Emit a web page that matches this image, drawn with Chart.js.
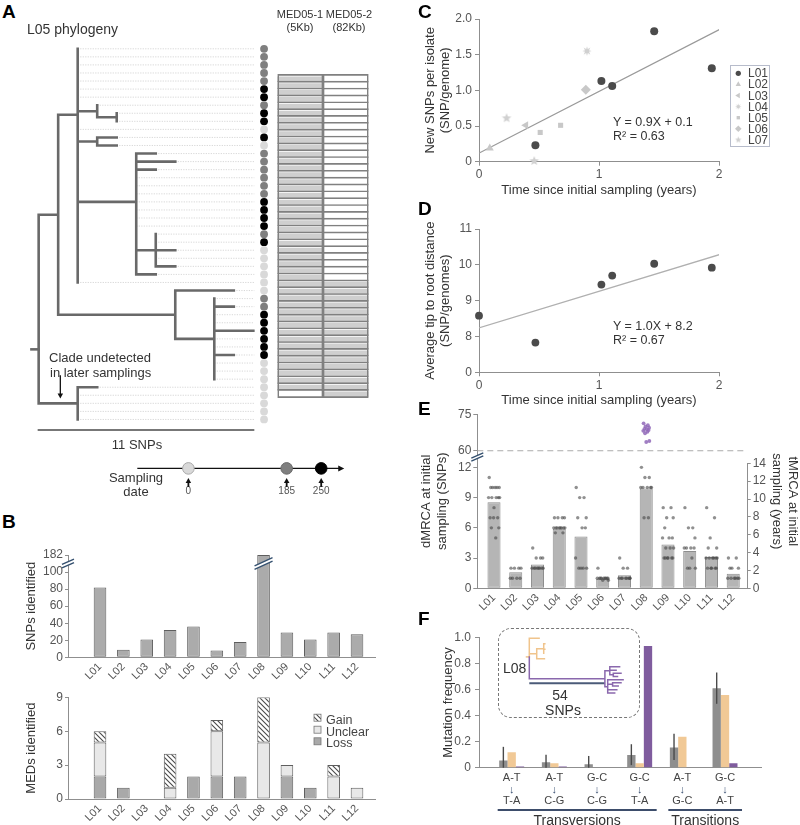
<!DOCTYPE html>
<html><head><meta charset="utf-8">
<script src="https://cdn.jsdelivr.net/npm/chart.js@4.4.1/dist/chart.umd.min.js"></script>
<style>
html,body{margin:0;padding:0;background:#fff;}
#fig{position:relative;width:800px;height:825px;overflow:hidden;background:#fff;font-family:'Liberation Sans',Arial,Helvetica,sans-serif;color:#333;}
#fig canvas{position:absolute;}
.t{position:absolute;white-space:nowrap;line-height:1;color:#333;}
.box{position:absolute;}
</style></head><body><div id="fig"></div>
<script>
/* ================= DATA ================= */
const lineages = ['L01','L02','L03','L04','L05','L06','L07','L08','L09','L10','L11','L12'];

/* Panel A : L05 phylogeny */
const samplingDays = [0, 185, 250];
const leafSamplingDay = [185,185,185,185,185,250,250,185,250,250,0,250,0,185,185,185,185,185,185,250,250,250,250,185,250,0,0,0,0,0,0,185,185,250,250,250,250,250,250,0,0,0,0,0,0,0,0];
const med05_1Coverage = [1,1,1,1,1,1,1,1,1,1,1,1,1,1,1,1,1,1,1,1,1,1,1,1,1,1,1,1,1,1,1,1,1,1,1,1,1,1,1,1,1,1,1,1,1,1,0];
const med05_2Coverage = [0,0,0,0,0,0,0,0,0,0,0,0,0,0,0,0,0,0,0,0,0,0,0,0,0,0,0,0,0,0,1,1,1,1,1,1,1,1,1,1,1,1,1,1,1,1,1];
function L(len, leaf, tag){ return {len, leaf, tag}; }
function N(len, children, tag){ return {len, children, tag}; }
// branch lengths in SNPs, leaves numbered top to bottom
const l05Tree = N(0, [
  N(1, [
    N(1, [L(0,0),L(0,1),L(0,2),L(0,3),L(0,4),L(0,5),L(0,6),
          N(1,[L(0,7), N(1,[L(0,8),L(0,9)])]),
          L(0,10),
          N(1,[L(1,11),L(1,12)]),
          N(3,[L(1,13),L(2,14),L(1,15),L(0,16),L(0,17),L(0,18),L(0,19),L(0,20),L(0,21),L(0,22),
               N(1,[L(0,23),L(0,24),L(1,25),L(0,26),L(1,27)]), L(1,28)]),
          L(0,29)]),
    N(6, [L(3,30), N(2,[L(0,31),L(1,32),L(0,33),L(0,34),L(2,35),L(0,36),L(0,37),L(1,38),L(0,39),L(0,40),L(0,41)])])
  ]),
  N(2, [L(1,42),L(0,43),L(0,44),L(0,45),L(0,46)])
]);
const treeScaleSnps = 11;

/* Panel B */
const snpsIdentified = [82, 9, 21, 32, 36, 8, 18, 182, 29, 21, 29, 27];
const snpTickValues = [0, 20, 40, 60, 80, 100, 182];
const medLoss    = [2,1,0,0,2,2,2,0,2,1,0,0];
const medUnclear = [3,0,0,1,0,4,0,5,1,0,2,1];
const medGain    = [1,0,0,3,0,1,0,4,0,0,1,0];
const medTicks = [0, 3, 6, 9];

/* Panel C */
const cSeries = ['L01','L02','L03','L04','L05','L06','L07'];
const cYears  = [[0.47,1.02,1.11,1.46,1.94],[0.09],[0.39],[0.90],[0.51,0.68],[0.89],[0.23,0.46]];
const cNewSnps = [[0.23,1.13,1.06,1.83,1.31],[0.19],[0.51],[1.55],[0.41,0.51],[1.01],[0.61,0.01]];
const cFitX = [0, 2];
const cFitY = [0.12, 1.85];
const cTicksY = [0, 0.5, 1.0, 1.5, 2.0];

/* Panel D */
const dYears = [0, 0.47, 1.02, 1.11, 1.46, 1.94];
const dTipToRoot = [8.58, 7.83, 9.45, 9.70, 10.03, 9.92];
const dFitX = [0, 2];
const dFitY = [8.24, 10.28];
const dTicksY = [8, 9, 10, 11];

/* Panel E */
const eDmrca = [8.55, 1.6, 2.35, 5.9, 5.15, 0.95, 1.3, 9.9, 4.35, 3.7, 3.1, 1.45];
const eIsolates = [
  [11,10,10,10,10,10,9,9,9,9,9,8,7,7,7,6,6,5],
  [2,2,2,2,1,1,1,1],
  [4,3,3,3,2,2,2,2,2,2,2,2],
  [7,7,7,7,6,6,6,6,6,6,6,6,5.5,5.5],
  [10,9,9,7,7,6,6,3,2,2,2,2],
  [2,1,1,1,1,1,1,1,1,1,0.8,0.8],
  [3,2,2,1,1,1,1,1,1,1,1],
  [12,11,11,10,10,10,10,10,7,7],
  [8,8,7,7,6,5,5,5,4,4,4,3,3,3,3,3,3],
  [8,6,6,5,4,4,4,4,3,2,2,2],
  [8,7,5,4,4,3,3,3,3,3,3,2,2,2,2,2],
  [3,3,2,2,2,1,1,1,1,1,1]
];
const eL08Distant = [71.3, 70.5, 70, 69.5, 69, 68.8, 68.5, 68.2, 67.8, 67.2, 64, 63.6];
const eLeftTicks = [0, 3, 6, 9, 12, 60, 75];
const eRightTicks = [0, 2, 4, 6, 8, 10, 12, 14];

/* Panel F */
const fClasses = [['A-T','T-A'],['A-T','C-G'],['G-C','C-G'],['G-C','T-A'],['A-T','G-C'],['G-C','A-T']];
const fAllLineages = [0.055, 0.042, 0.027, 0.098, 0.155, 0.61];
const fAllLo = [0, 0, 0, 0.02, 0.06, 0.49];
const fAllHi = [0.16, 0.10, 0.09, 0.18, 0.26, 0.73];
const fL08Early = [0.118, 0.035, 0, 0.035, 0.238, 0.557];
const fL08Distant = [0.01, 0.01, 0, 0.933, 0.004, 0.035];
const fGroups = [{name:'Transversions', from:0, to:3}, {name:'Transitions', from:4, to:5}];
const fTicksY = [0, 0.2, 0.4, 0.6, 0.8, 1.0];
// inset: L08 tree (branch lengths in SNPs, leaf rows)
const l08Tree = N(0, [
  L(7, 0),
  N(5.3, [ N(5, [L(0.8,1.6), L(0.8,3.2), L(0,4.4)]), L(5.5,6) ]),
  N(54, [
    N(3.5, [L(7,8.4), L(4.5,9.4), N(2.5,[L(5.5,10.3), L(3,11.2)])]),
    N(2, [L(11,12.2), N(3.5,[L(6,13.1), L(4,14)]), L(6.5,15.1), L(5,16.1)])
  ], 'late')
], 'early');
const l08ScaleSnps = 54;

/* ================= STYLE / HELPERS ================= */
Chart.defaults.font.family = "'Liberation Sans', Arial, Helvetica, sans-serif";
Chart.defaults.font.size = 12;
Chart.defaults.color = '#555';
Chart.defaults.animation = false;
Chart.defaults.responsive = false;
Chart.defaults.maintainAspectRatio = false;
Chart.defaults.devicePixelRatio = 1;
Chart.defaults.events = [];
Chart.defaults.plugins.legend.display = false;
Chart.defaults.plugins.tooltip.enabled = false;

const fig = document.getElementById('fig');
const AXC = '#8f8f8f';
const samplingColors = ['#d9d9d9', '#7f7f7f', '#000000'];
const samplingBorders = ['#a9a9a9', '#6a6a6a', '#000000'];
const tagColors = {early: '#f0c48c', late: '#8a68ad', base: '#696969'};

function mkCanvas(l, t, w, h) {
  const c = document.createElement('canvas');
  c.width = w; c.height = h;
  c.style.left = l + 'px'; c.style.top = t + 'px';
  c.style.width = w + 'px'; c.style.height = h + 'px';
  fig.appendChild(c);
  return c;
}
function txt(html, x, y, o) {
  o = o || {};
  const d = document.createElement('div');
  d.className = 't';
  d.innerHTML = html;
  d.style.fontSize = (o.size || 13) + 'px';
  if (o.bold) d.style.fontWeight = 'bold';
  if (o.color) d.style.color = o.color;
  const ax = o.align === 'left' ? '0' : (o.align === 'right' ? '-100%' : '-50%');
  d.style.left = x + 'px'; d.style.top = y + 'px';
  d.style.transform = 'translate(' + ax + ',-50%)';
  fig.appendChild(d);
  return d;
}
const drawPt = (Chart.helpers && Chart.helpers.drawPoint) ? Chart.helpers.drawPoint :
  function (ctx, o, x, y) { ctx.beginPath(); ctx.arc(x, y, o.radius, 0, Math.PI * 2); ctx.fill(); };

function linAxis(o) {
  const ax = {
    type: 'linear', display: o.display !== false, position: o.position, min: o.min, max: o.max,
    reverse: !!o.reverse, offset: false, stacked: !!o.stacked,
    border: {display: o.border !== false, color: AXC, width: 1},
    grid: {display: (o.tickLen || 0) > 0, offset: false, drawOnChartArea: false, drawTicks: (o.tickLen || 0) > 0, tickLength: o.tickLen || 0, color: AXC},
    ticks: {display: o.labels !== null, color: '#555', font: {size: o.fontSize || 12}, padding: o.pad == null ? 3 : o.pad,
            autoSkip: false, maxRotation: o.rot || 0, minRotation: o.rot || 0,
            callback: (v, i) => (o.labels ? o.labels[i] : v)},
    afterBuildTicks: s => { s.ticks = (o.ticks || []).map(v => ({value: v})); },
    title: o.title ? {display: true, text: o.title, color: '#333', font: {size: 13, lineHeight: 1.2}, padding: o.titlePad} : {display: false}
  };
  if (o.width != null) ax.afterFit = s => { s.width = o.width; };
  if (o.height != null) ax.afterFit = s => { s.height = o.height; };
  return ax;
}
function arrow(ctx, x1, y1, x2, y2, head, color, lw) {
  const a = Math.atan2(y2 - y1, x2 - x1);
  ctx.save(); ctx.strokeStyle = color; ctx.fillStyle = color; ctx.lineWidth = lw;
  ctx.beginPath(); ctx.moveTo(x1, y1); ctx.lineTo(x2 - Math.cos(a) * head * 0.8, y2 - Math.sin(a) * head * 0.8); ctx.stroke();
  ctx.beginPath(); ctx.moveTo(x2, y2);
  ctx.lineTo(x2 - head * Math.cos(a) + head * 0.55 * Math.sin(a), y2 - head * Math.sin(a) - head * 0.55 * Math.cos(a));
  ctx.lineTo(x2 - head * Math.cos(a) - head * 0.55 * Math.sin(a), y2 - head * Math.sin(a) + head * 0.55 * Math.cos(a));
  ctx.closePath(); ctx.fill();
  ctx.restore();
}
function breakMark(ctx, x, y, w, gap) {
  const dy = w * 0.45;
  ctx.save();
  ctx.strokeStyle = '#fff'; ctx.lineWidth = gap;
  ctx.beginPath(); ctx.moveTo(x - w, y + dy); ctx.lineTo(x + w, y - dy); ctx.stroke();
  ctx.strokeStyle = '#34506f'; ctx.lineWidth = 1.4;
  [-gap / 2, gap / 2].forEach(o => { ctx.beginPath(); ctx.moveTo(x - w, y + dy + o); ctx.lineTo(x + w, y - dy + o); ctx.stroke(); });
  ctx.restore();
}
function starCanvas(points, rOut, rIn, color) {
  const s = Math.ceil(rOut * 2 + 2);
  const c = document.createElement('canvas'); c.width = s; c.height = s;
  const g = c.getContext('2d'); g.fillStyle = color; g.beginPath();
  for (let i = 0; i < points * 2; i++) {
    const r = i % 2 ? rIn : rOut; const a = -Math.PI / 2 + i * Math.PI / points;
    g.lineTo(s / 2 + r * Math.cos(a), s / 2 + r * Math.sin(a));
  }
  g.closePath(); g.fill();
  return c;
}
function hatchPattern() {
  const c = document.createElement('canvas'); c.width = 5; c.height = 5;
  const g = c.getContext('2d'); g.fillStyle = '#fff'; g.fillRect(0, 0, 5, 5);
  g.strokeStyle = '#4a4a4a'; g.lineWidth = 1.1;
  g.beginPath(); g.moveTo(-1, -1); g.lineTo(6, 6); g.moveTo(-1, 4); g.lineTo(1, 6); g.moveTo(4, -1); g.lineTo(6, 1); g.stroke();
  return g.createPattern(c, 'repeat');
}
// tree helpers
function placeTree(node, x0, tag) {
  node.x = x0 + node.len; node.c = node.tag || tag;
  if (node.children) {
    node.children.forEach(ch => placeTree(ch, node.x, node.c));
    node.y = node.children.reduce((s, ch) => s + ch.y, 0) / node.children.length;
  } else node.y = node.leaf;
  return node;
}
function treeSegments(node, out) {
  if (!node.children) return out;
  node.children.forEach(ch => {
    (out[ch.c] = out[ch.c] || []).push({x: node.x, y: node.y}, {x: node.x, y: ch.y}, {x: ch.x, y: ch.y}, {x: null, y: null});
    treeSegments(ch, out);
  });
  return out;
}
function treeLeaves(node, out) { if (node.children) node.children.forEach(c => treeLeaves(c, out)); else out.push(node); return out; }
const segDataset = (data, color, w) => ({type: 'line', data, borderColor: color, borderWidth: w, pointRadius: 0, fill: false, tension: 0, spanGaps: false, borderCapStyle: 'square', borderJoinStyle: 'miter'});
const idx12 = lineages.map((_, i) => i);

/* ================= PANEL A : tree ================= */
(function () {
  placeTree(l05Tree, 0, 'base');
  const segs = treeSegments(l05Tree, {});
  const leaves = treeLeaves(l05Tree, []).sort((a, b) => a.leaf - b.leaf);
  const guideEnd = 11.05, dotX = 11.55;
  const guides = [];
  leaves.forEach(l => guides.push({x: l.x, y: l.y}, {x: guideEnd, y: l.y}, {x: null, y: null}));
  const dots = leaves.map(l => ({x: dotX, y: l.y}));
  const dotCol = leaves.map(l => samplingColors[samplingDays.indexOf(leafSamplingDay[l.leaf])]);
  const rootStubRow = 37.3, scaleBarRow = 47.32;
  const treePlugin = {id: 'treeArrow', afterDatasetsDraw(chart) {
    const xs = chart.scales.x, ys = chart.scales.y;
    arrow(chart.ctx, xs.getPixelForValue(1.11), ys.getPixelForValue(40.5), xs.getPixelForValue(1.11), ys.getPixelForValue(43.4), 5, '#111', 1.3);
  }};
  new Chart(mkCanvas(0, 35, 275, 405), {
    type: 'scatter',
    data: {datasets: [
      {data: dots, pointRadius: 3.9, backgroundColor: dotCol, borderWidth: 0, clip: false},
      segDataset(segs.base, tagColors.base, 2.6),
      segDataset([{x: -0.37, y: rootStubRow}, {x: 0, y: rootStubRow}], tagColors.base, 2.6),
      segDataset([{x: 0, y: scaleBarRow}, {x: treeScaleSnps, y: scaleBarRow}], '#777', 2),
      Object.assign(segDataset(guides, '#cdcdcd', 0.8), {borderDash: [1.2, 1.3], borderCapStyle: 'butt'})
    ]},
    options: {layout: {padding: 0},
      scales: {x: {type: 'linear', display: false, min: -35.7 / 20.1, max: (275 - 35.7) / 20.1},
               y: {type: 'linear', display: false, reverse: true, min: -10 / 8.22, max: 395 / 8.22}}},
    plugins: [treePlugin]
  });

  // coverage tracks
  const rows = med05_1Coverage.map((_, i) => i);
  const rowPx = 8.22, covShift = 0.13;
  const frame = (a, b) => ({data: rows.map(i => ({y: i, x: [a, b]})), backgroundColor: 'rgba(0,0,0,0)', borderColor: '#808080',
    borderWidth: rows.map(i => ({top: 1, left: 1, right: 1, bottom: i === rows.length - 1 ? 1 : 0})), borderSkipped: false, grouped: false, barThickness: rowPx});
  const cov = (arr, a, b) => ({data: rows.filter(i => arr[i]).map(i => ({y: i + covShift, x: [a, b]})), backgroundColor: '#cfcfcf', borderWidth: 0, grouped: false, barThickness: 5.2});
  new Chart(mkCanvas(276, 42, 94, 389), {
    type: 'bar',
    data: {datasets: [frame(0, 1), frame(1, 2), cov(med05_1Coverage, 0, 1), cov(med05_2Coverage, 1, 2)]},
    options: {indexAxis: 'y', layout: {padding: 0},
      scales: {x: {type: 'linear', display: false, min: -1.7 / 45.3, max: 2 + 1.7 / 45.3},
               y: {type: 'linear', display: false, reverse: true, min: (42 - 46.8) / rowPx, max: (431 - 46.8) / rowPx}}}
  });

  // sampling date timeline
  const timelineFrom = -95, timelineTo = 284;
  const tlPlugin = {id: 'tl', afterDatasetsDraw(chart) {
    const ctx = chart.ctx, xs = chart.scales.x, ys = chart.scales.y, y0 = ys.getPixelForValue(0);
    const xe = xs.getPixelForValue(timelineTo);
    ctx.save(); ctx.fillStyle = '#111';
    ctx.beginPath(); ctx.moveTo(xe + 5, y0); ctx.lineTo(xe - 1, y0 - 3); ctx.lineTo(xe - 1, y0 + 3); ctx.closePath(); ctx.fill();
    ctx.restore();
    samplingDays.forEach(d => arrow(ctx, xs.getPixelForValue(d), y0 + 18.5, xs.getPixelForValue(d), y0 + 9.5, 5, '#111', 1.8));
  }};
  new Chart(mkCanvas(100, 455, 265, 42), {
    type: 'scatter',
    data: {datasets: [
      {data: samplingDays.map(d => ({x: d, y: 0})), pointRadius: 5.8, backgroundColor: samplingColors, borderColor: samplingBorders, borderWidth: 1, clip: false},
      segDataset([{x: timelineFrom, y: 0}, {x: timelineTo, y: 0}], '#111', 1.2)
    ]},
    options: {layout: {padding: 0},
      scales: {x: linAxis({min: -86 / 0.56, max: (265 - 86) / 0.56, ticks: samplingDays, labels: samplingDays.map(String), height: 22, tickLen: 0, pad: 10, fontSize: 10, border: false}),
               y: {type: 'linear', display: false, min: -1, max: 1}}},
    plugins: [tlPlugin]
  });
})();

/* ================= PANEL B ================= */
const snpBreakFrom = 100, snpBreakTop = 120;
const snpDisplay = v => v <= snpBreakFrom ? v : snpBreakFrom + (v - snpBreakFrom) * (snpBreakTop - snpBreakFrom) / (182 - snpBreakFrom);
(function () {
  const bPlugin = {id: 'bBreak', afterDraw(chart) {
    const ys = chart.scales.y, yb = ys.getPixelForValue((snpBreakFrom + snpBreakTop) / 2);
    breakMark(chart.ctx, chart.chartArea.left, yb, 6, 3.5);
    const meta = chart.getDatasetMeta(0);
    snpsIdentified.forEach((v, i) => { if (v > snpBreakFrom) breakMark(chart.ctx, meta.data[i].x, yb, 9, 3.5); });
  }};
  new Chart(mkCanvas(0, 540, 400, 150), {
    type: 'bar',
    data: {datasets: [{data: snpsIdentified.map((v, i) => ({x: i, y: snpDisplay(v)})), backgroundColor: '#ababab', borderColor: '#5e5e5e', borderWidth: 1, borderSkipped: false, barPercentage: 0.54, categoryPercentage: 1}]},
    options: {layout: {padding: {top: 15, right: 25, left: 0, bottom: 0}},
      scales: {x: linAxis({min: -1.37, max: 11.77, ticks: idx12, labels: lineages, rot: 45, height: 32.7, tickLen: 0, pad: 3, fontSize: 11}),
               y: linAxis({min: 0, max: snpBreakTop, ticks: snpTickValues.map(snpDisplay), labels: snpTickValues.map(String), width: 68, tickLen: 3, pad: 2, title: 'SNPs identified', titlePad: {top: 24, bottom: 0}})}},
    plugins: [bPlugin]
  });

  const gainPat = hatchPattern();
  const medColors = {Loss: '#a9a9a9', Unclear: '#e8e8e8', Gain: gainPat};
  const legendPlugin = {id: 'medLegend', afterDraw(chart) {
    const ctx = chart.ctx;
    ['Gain', 'Unclear', 'Loss'].forEach((k, j) => {
      const y = [34.7, 46.7, 58.3][j];
      ctx.save(); ctx.fillStyle = medColors[k]; ctx.fillRect(314, y - 3.5, 7, 7);
      ctx.strokeStyle = '#777'; ctx.lineWidth = 0.8; ctx.strokeRect(314, y - 3.5, 7, 7); ctx.restore();
    });
  }};
  const stackDs = (arr, col) => ({data: arr.map((v, i) => ({x: i, y: v})), backgroundColor: col, borderColor: '#5e5e5e', borderWidth: 1, borderSkipped: false, barPercentage: 0.54, categoryPercentage: 1});
  new Chart(mkCanvas(0, 683, 400, 142), {
    type: 'bar',
    data: {datasets: [stackDs(medLoss, medColors.Loss), stackDs(medUnclear, medColors.Unclear), stackDs(medGain, medColors.Gain)]},
    options: {layout: {padding: {top: 14.3, right: 25, left: 0, bottom: 0}},
      scales: {x: linAxis({min: -1.37, max: 11.77, ticks: idx12, labels: lineages, rot: 45, height: 26, tickLen: 0, pad: 3, fontSize: 11, stacked: true}),
               y: linAxis({min: 0, max: 9, ticks: medTicks, labels: medTicks.map(String), width: 68, tickLen: 3, pad: 2, stacked: true, title: 'MEDs identified', titlePad: {top: 24, bottom: 0}})}},
    plugins: [legendPlugin]
  });
})();

/* ================= PANEL C ================= */
const cColors = ['#4b4b4b', '#c8c8c8', '#c8c8c8', '#d0d0d0', '#c8c8c8', '#c8c8c8', '#d0d0d0'];
const cRot = [0, 0, -90, 0, 0, 0, 0];
const cRad = [4, 4.6, 4.6, 0, 3.6, 5, 0];
(function () {
  const cStyle = ['circle', 'triangle', 'triangle', starCanvas(8, 4.8, 2.1, cColors[3]), 'rect', 'rectRot', starCanvas(5, 5, 2.2, cColors[6])];
  const cLegStyle = ['circle', 'triangle', 'triangle', starCanvas(8, 3.2, 1.4, cColors[3]), 'rect', 'rectRot', starCanvas(5, 3.4, 1.5, cColors[6])];
  const legendPlugin = {id: 'cLegend', afterDraw(chart) {
    const ctx = chart.ctx;
    cSeries.forEach((s, k) => {
      ctx.save(); ctx.fillStyle = cColors[k]; ctx.strokeStyle = cColors[k];
      drawPt(ctx, {pointStyle: cLegStyle[k], rotation: cRot[k], radius: cRad[k] * 0.66, borderWidth: 0}, 338.3, 73.3 + 11.1 * k);
      ctx.restore();
    });
  }};
  const ds = cSeries.map((s, k) => ({label: s, data: cYears[k].map((x, i) => ({x, y: cNewSnps[k][i]})), clip: false,
    pointStyle: cStyle[k], rotation: cRot[k], pointRadius: cRad[k] || 5, backgroundColor: cColors[k], borderColor: cColors[k], borderWidth: 0}));
  ds.push(segDataset(cFitX.map((x, i) => ({x, y: cFitY[i]})), '#9a9a9a', 1.3));
  new Chart(mkCanvas(400, 0, 400, 200), {
    type: 'scatter',
    data: {datasets: ds},
    options: {layout: {padding: {top: 19, right: 81, left: 0, bottom: 0}},
      scales: {x: linAxis({min: 0, max: 2, ticks: [0, 1, 2], labels: ['0', '1', '2'], height: 38.3, tickLen: 4, pad: 2, title: 'Time since initial sampling (years)', titlePad: {top: 0, bottom: 2.2}}),
               y: linAxis({min: 0, max: 2, ticks: cTicksY, labels: cTicksY.map(v => v === 0 ? '0' : v.toFixed(1)), width: 79, tickLen: 4, pad: 3, title: ['New SNPs per isolate', '(SNP/genome)'], titlePad: {top: 22.2, bottom: 0}})}},
    plugins: [legendPlugin]
  });
})();

/* ================= PANEL D ================= */
(function () {
  const axisFloor = 7; // axis is broken: bottom tick shows 0
  new Chart(mkCanvas(400, 195, 400, 215), {
    type: 'scatter',
    data: {datasets: [
      {data: dYears.map((x, i) => ({x, y: dTipToRoot[i]})), pointRadius: 3.9, backgroundColor: '#4b4b4b', borderWidth: 0, clip: false},
      segDataset(dFitX.map((x, i) => ({x, y: dFitY[i]})), '#b0b0b0', 1.3)
    ]},
    options: {layout: {padding: {top: 34, right: 81, left: 0, bottom: 0}},
      scales: {x: linAxis({min: 0, max: 2, ticks: [0, 1, 2], labels: ['0', '1', '2'], height: 37.7, tickLen: 4, pad: 2, title: 'Time since initial sampling (years)', titlePad: {top: 0, bottom: 2.2}}),
               y: linAxis({min: axisFloor, max: 11, ticks: [axisFloor].concat(dTicksY), labels: ['0'].concat(dTicksY.map(String)), width: 79, tickLen: 4, pad: 3, title: ['Average tip to root distance', '(SNP/genomes)'], titlePad: {top: 22.2, bottom: 0}})}}
  });
})();

/* ================= PANEL E ================= */
const eLowerMax = 12.4, eUpperBase = 13.65, eUpperScale = 0.241, eYearScale = 0.886;
const eY = v => v <= eLowerMax ? v : eUpperBase + (v - 60) * eUpperScale;
(function () {
  const eJitter = [-0.22, 0.14, -0.06, 0.24, -0.15, 0.05, 0.2, -0.25, 0.1, -0.1, 0.26, 0, -0.18, 0.17, -0.02, 0.22, -0.12, 0.08];
  const dotData = [];
  eIsolates.forEach((vals, k) => vals.forEach((v, j) => dotData.push({x: k + eJitter[j % eJitter.length], y: eY(v)})));
  const distantData = eL08Distant.map((v, j) => ({x: 7 + eJitter[j % eJitter.length] * 0.55, y: eY(v)}));
  const xMin = -0.768, xMax = 11.62;
  const ePlugin = {id: 'eExtras', afterDraw(chart) {
    const ctx = chart.ctx, ca = chart.chartArea, y2 = chart.scales.y2;
    ctx.save(); ctx.strokeStyle = AXC; ctx.lineWidth = 1;
    ctx.beginPath(); ctx.moveTo(Math.round(ca.right) + 0.5, y2.getPixelForValue(eRightTicks[eRightTicks.length - 1])); ctx.lineTo(Math.round(ca.right) + 0.5, y2.getPixelForValue(0)); ctx.stroke();
    ctx.restore();
    breakMark(ctx, ca.left, chart.scales.y.getPixelForValue((eLowerMax + eUpperBase) / 2), 6, 3);
  }};
  new Chart(mkCanvas(400, 400, 400, 222), {
    type: 'bar',
    data: {datasets: [
      {type: 'scatter', data: dotData, pointRadius: 1.7, backgroundColor: 'rgba(70,70,70,0.6)', borderWidth: 0, clip: false},
      {type: 'scatter', data: distantData, pointRadius: 1.9, backgroundColor: 'rgba(145,105,185,0.85)', borderWidth: 0, clip: false},
      Object.assign(segDataset([{x: xMin, y: eY(60)}, {x: xMax, y: eY(60)}], '#ababab', 1.2), {borderDash: [6, 4], borderCapStyle: 'butt'}),
      {type: 'bar', data: eDmrca.map((v, k) => ({x: k, y: eY(v)})), backgroundColor: '#b5b5b5', borderColor: '#8e8e8e', borderWidth: 1, borderSkipped: false, barPercentage: 0.6, categoryPercentage: 1}
    ]},
    options: {layout: {padding: {top: 14.3, right: 0, left: 0, bottom: 0}},
      scales: {
        x: linAxis({min: xMin, max: xMax, ticks: idx12, labels: lineages, rot: 45, height: 33.7, tickLen: 0, pad: 3, fontSize: 11}),
        y: linAxis({position: 'left', min: 0, max: eY(75), ticks: eLeftTicks.map(eY), labels: eLeftTicks.map(String), width: 77.3, tickLen: 4, pad: 2, title: ['dMRCA at initial', 'sampling (SNPs)'], titlePad: {top: 18.9, bottom: 0}}),
        y2: linAxis({position: 'right', min: 0, max: eY(75) / eYearScale, ticks: eRightTicks, labels: eRightTicks.map(String), width: 53.3, tickLen: 4, pad: 2, border: false, title: ['tMRCA at initial', 'sampling (years)'], titlePad: {top: 0, bottom: 0}})
      }},
    plugins: [ePlugin]
  });
})();

/* ================= PANEL F ================= */
let fChart;
(function () {
  const fPlugin = {id: 'fExtras', afterDatasetsDraw(chart) {
    const ctx = chart.ctx, ys = chart.scales.y, xs = chart.scales.x, meta = chart.getDatasetMeta(0);
    ctx.save(); ctx.strokeStyle = '#4a4a4a'; ctx.lineWidth = 1.4;
    meta.data.forEach((bar, i) => { ctx.beginPath(); ctx.moveTo(bar.x, ys.getPixelForValue(fAllLo[i])); ctx.lineTo(bar.x, ys.getPixelForValue(fAllHi[i])); ctx.stroke(); });
    ctx.strokeStyle = '#3d4d6b'; ctx.lineWidth = 2.2;
    fGroups.forEach(g => { ctx.beginPath(); ctx.moveTo(xs.getPixelForValue(g.from) - 14, 185); ctx.lineTo(xs.getPixelForValue(g.to) + 17, 185); ctx.stroke(); });
    ctx.restore();
  }};
  const bar = (arr, col) => ({data: arr.map((v, i) => ({x: i, y: v})), backgroundColor: col, borderWidth: 0, barPercentage: 1, categoryPercentage: 0.585});
  fChart = new Chart(mkCanvas(400, 625, 400, 200), {
    type: 'bar',
    data: {datasets: [bar(fAllLineages, '#8e8e8e'), bar(fL08Early, '#f1c996'), bar(fL08Distant, '#7f5c9e')]},
    options: {layout: {padding: {top: 12.3, right: 38.3, left: 0, bottom: 0}},
      scales: {x: linAxis({min: -0.766, max: 5.86, ticks: fClasses.map((_, i) => i), labels: null, height: 57.3, tickLen: 0}),
               y: linAxis({min: 0, max: 1, ticks: fTicksY, labels: fTicksY.map(v => v === 0 ? '0' : v.toFixed(1)), width: 79, tickLen: 4, pad: 4, title: 'Mutation frequency', titlePad: {top: 40.2, bottom: 0}})}},
    plugins: [fPlugin]
  });

  // inset box + L08 tree
  const box = document.createElement('div'); box.className = 'box';
  Object.assign(box.style, {left: '497.5px', top: '628.3px', width: '140px', height: '88px', border: '1.5px dashed #777', borderRadius: '13px'});
  fig.appendChild(box);
  placeTree(l08Tree, 0, 'early');
  const segs = treeSegments(l08Tree, {});
  const rootRow = l08Tree.y;
  new Chart(mkCanvas(505, 632, 132, 70), {
    type: 'scatter',
    data: {datasets: [
      segDataset(segs.late, tagColors.late, 1.5),
      segDataset(segs.early, tagColors.early, 1.5),
      segDataset([{x: -2, y: rootRow}, {x: 0, y: rootRow}], tagColors.early, 1.5),
      Object.assign(segDataset([{x: 0, y: 13.2}, {x: l08ScaleSnps, y: 13.2}], '#4b5b78', 2), {borderCapStyle: 'butt'})
    ]},
    options: {layout: {padding: 0},
      scales: {x: {type: 'linear', display: false, min: (505 - 529.3) / 1.4, max: (637 - 529.3) / 1.4},
               y: {type: 'linear', display: false, reverse: true, min: (632 - 638.3) / 3.4, max: (702 - 638.3) / 3.4}}}
  });
})();

/* ================= TEXT ================= */
const P = {size: 19, bold: true, align: 'left', color: '#000'};
txt('A', 2, 11, P); txt('B', 2, 521, P); txt('C', 418, 11, P); txt('D', 418, 208, P); txt('E', 418, 408, P); txt('F', 418, 618, P);
txt('L05 phylogeny', 27, 29, {size: 14, align: 'left'});
txt('MED05-1', 300, 14, {size: 11}); txt('(5Kb)', 300, 27, {size: 11});
txt('MED05-2', 349, 14, {size: 11}); txt('(82Kb)', 349, 27, {size: 11});
txt('Clade undetected', 49, 357, {size: 13, align: 'left'});
txt('in later samplings', 50, 371.5, {size: 13, align: 'left'});
txt('11 SNPs', 137, 444, {size: 13});
txt('Sampling', 136, 477, {size: 13}); txt('date', 136, 491, {size: 13});
['Gain', 'Unclear', 'Loss'].forEach((s, j) => txt(s, 326, [719.7, 731.7, 743.3][j], {size: 12.5, align: 'left', color: '#444'}));
txt('Y = 0.9X + 0.1', 613, 122, {size: 12.5, align: 'left'}); txt('R² = 0.63', 613, 136, {size: 12.5, align: 'left'});
txt('Y = 1.0X + 8.2', 613, 326, {size: 12.5, align: 'left'}); txt('R² = 0.67', 613, 340, {size: 12.5, align: 'left'});
(function () {
  const lb = document.createElement('div'); lb.className = 'box';
  Object.assign(lb.style, {left: '730px', top: '65px', width: '38px', height: '80px', border: '1px solid #b7bccb'});
  fig.appendChild(lb);
  cSeries.forEach((s, k) => txt(s, 748, 73.3 + 11.1 * k, {size: 12, align: 'left', color: '#444'}));
})();
txt('L08', 503, 668, {size: 14, align: 'left'});
txt('54', 560, 695, {size: 14}); txt('SNPs', 563, 710, {size: 14});
(function () {
  const xs = fChart.scales.x;
  fClasses.forEach((c, i) => {
    const x = 400 + xs.getPixelForValue(i);
    txt(c[0], x, 777, {size: 11, color: '#444'});
    txt('↓', x, 788.5, {size: 11, color: '#3b5173'});
    txt(c[1], x, 800, {size: 11, color: '#444'});
  });
  fGroups.forEach(g => {
    const cx = 400 + (xs.getPixelForValue(g.from) - 14 + xs.getPixelForValue(g.to) + 17) / 2;
    txt(g.name, cx, 820, {size: 14});
  });
})();
</script></body></html>
